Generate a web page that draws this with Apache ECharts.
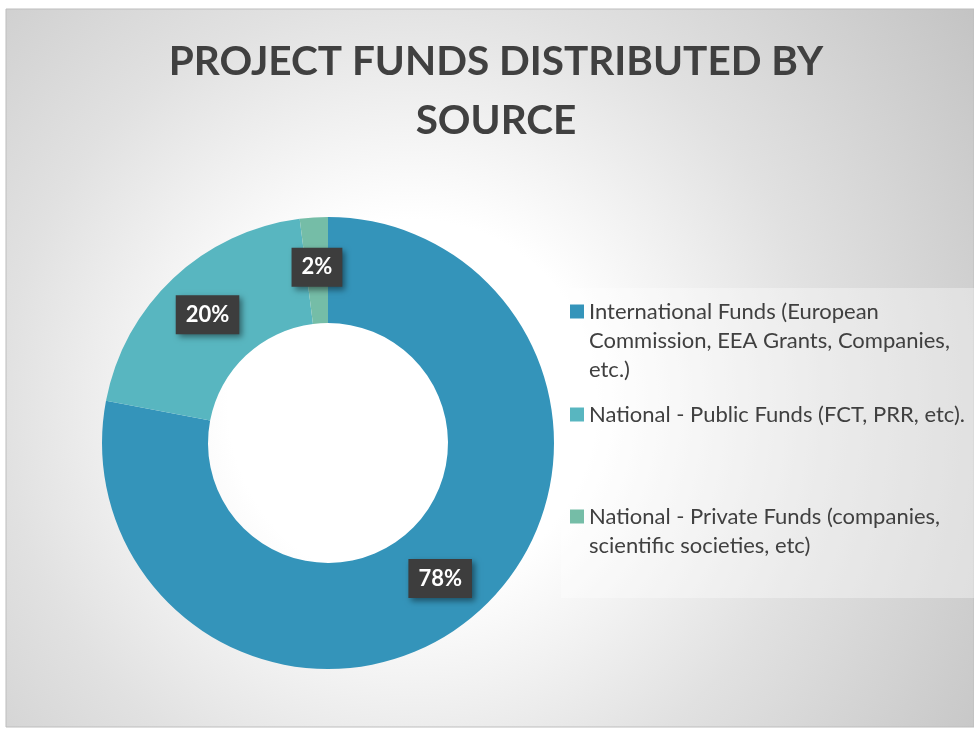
<!DOCTYPE html>
<html>
<head>
<meta charset="utf-8">
<script src="https://cdn.jsdelivr.net/npm/echarts@6/dist/echarts.min.js"></script>
<style>
  html, body { margin: 0; padding: 0; background: #ffffff; }
  #chart { width: 974px; height: 729px; }
</style>
</head>
<body>
<div id="chart"></div>
<script>
// data
var categories = [
    'International Funds (European\nCommission, EEA Grants, Companies,\netc.)',
    'National - Public Funds (FCT, PRR, etc).',
    'National - Private Funds (companies,\nscientific societies, etc)'
]
var shares = [78, 20, 2]
var colors = ['#3494BA', '#58B6C0', '#75BDA7']
var legendTops = [239, 400, 473]

window.onload = function () {
    var chart = echarts.init(document.getElementById('chart'), null, { renderer: 'canvas' })

    // one legend per entry so every icon sits on the first text line
    var legends = categories.map(function (name, i) {
        var nLines = name.split('\n').length
        return {
            orient: 'vertical',
            left: 570,
            top: legendTops[i],
            padding: 0,
            itemWidth: 14,
            itemHeight: 14,
            itemGap: 5,
            icon: 'rect',
            selectedMode: false,
            data: [name],
            formatter: function (n) {
                return new Array(nLines).join('\n') + n
            },
            textStyle: {
                fontFamily: 'Lato',
                fontSize: 22,
                lineHeight: 29,
                color: '#404040'
            }
        }
    })

    var option = {
        backgroundColor: '#ffffff',
        animation: false,
        color: colors,
        graphic: [
            {
                type: 'rect',
                z: -10,
                shape: { x: 6, y: 9, width: 968, height: 718 },
                style: {
                    fill: new echarts.graphic.RadialGradient(0.42, 0.55, 0.95, [
                        { offset: 0, color: '#ffffff' },
                        { offset: 0.27, color: '#ffffff' },
                        { offset: 0.6, color: '#e1e1e1' },
                        { offset: 1, color: '#c4c4c4' }
                    ]),
                    stroke: '#bdbdbd',
                    lineWidth: 1
                }
            },
            {
                type: 'rect',
                z: -9,
                shape: { x: 561, y: 288, width: 413, height: 310 },
                style: { fill: 'rgba(255,255,255,0.35)' }
            }
        ],
        title: {
            text: 'PROJECT FUNDS DISTRIBUTED BY\nSOURCE',
            left: 496,
            top: 32,
            padding: 0,
            textAlign: 'center',
            textStyle: {
                fontFamily: 'Lato',
                fontWeight: 'bold',
                fontSize: 40.5,
                lineHeight: 59,
                color: '#404040'
            }
        },
        legend: legends,
        series: [{
            type: 'pie',
            center: [328, 443],
            radius: [120, 226],
            startAngle: 90,
            clockwise: true,
            avoidLabelOverlap: false,
            label: {
                show: true,
                position: 'inside',
                formatter: '{d}%',
                fontFamily: 'Lato',
                fontWeight: 'bold',
                fontSize: 22,
                color: '#ffffff',
                backgroundColor: '#3d3d3d',
                padding: [9, 10, 8, 10],
                shadowColor: 'rgba(0,0,0,0.45)',
                shadowBlur: 6,
                shadowOffsetX: 3,
                shadowOffsetY: 3
            },
            labelLine: { show: false },
            emphasis: { disabled: true },
            data: categories.map(function (name, i) {
                return { name: name, value: shares[i] }
            })
        }]
    }

    chart.setOption(option)
}
</script>
</body>
</html>
